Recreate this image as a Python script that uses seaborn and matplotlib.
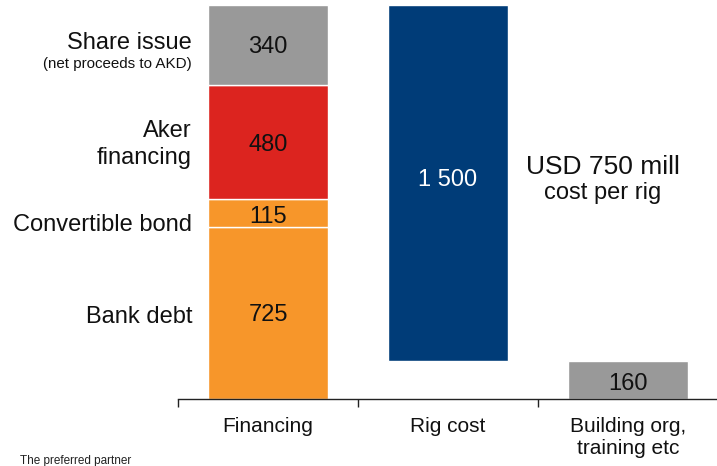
import numpy as np
import pandas as pd
import matplotlib
matplotlib.use("Agg")
import matplotlib.pyplot as plt
import seaborn as sns

# ---- data ----
categories = ["Financing", "Rig cost", "Building org,\ntraining etc"]
fin_segments = ["Bank debt", "Convertible bond", "Aker\nfinancing", "Share issue"]
fin_values = [725, 115, 480, 340]
rig_cost = 1500
building_cost = 160
value_labels_fin = ["725", "115", "480", "340"]
rig_label = "1 500"
building_label = "160"

colors_fin = ["#F7962A", "#F7962A", "#DC241F", "#999999"]
color_rig = "#003C78"
color_building = "#999999"

sns.set_theme(style="white")
plt.rcParams["font.family"] = ["Liberation Sans", "DejaVu Sans"]

fig = plt.figure(figsize=(7.17, 4.66), dpi=100)
ax = fig.add_axes([0.2483, 0.1438, 0.7531, 0.8562])

width = 0.667
bottoms = np.concatenate([[0], np.cumsum(fin_values)[:-1]])
for seg, val, bot, col in zip(fin_segments, fin_values, bottoms, colors_fin):
    sns.barplot(x=[categories[0]], y=[val], order=categories, ax=ax,
                color=col, width=width, bottom=bot, edgecolor="white",
                linewidth=1, saturation=1)

sns.barplot(x=[categories[1]], y=[rig_cost], order=categories, ax=ax,
            color=color_rig, width=width, bottom=building_cost,
            edgecolor="white", linewidth=1, saturation=1)
sns.barplot(x=[categories[2]], y=[building_cost], order=categories, ax=ax,
            color=color_building, width=width, edgecolor="white",
            linewidth=1, saturation=1)

ax.set_xlim(-0.5, 2.5)
ax.set_ylim(0, 1680)
ax.set_ylabel("")
ax.set_xlabel("")
ax.set_yticks([])
for s in ["left", "top", "right"]:
    ax.spines[s].set_visible(False)
ax.spines["bottom"].set_color("#222222")
ax.spines["bottom"].set_linewidth(1)

ax.set_xticks(range(len(categories)))
ax.set_xticklabels(categories, fontsize=15, color="#111111", linespacing=1.2)
ax.tick_params(axis="x", which="major", length=0, pad=13)
ax.set_xticks([-0.5, 0.5, 1.5, 2.5], minor=True)
ax.tick_params(axis="x", which="minor", length=6, width=1, color="#222222",
               direction="out", bottom=True)

# segment value labels
dy = -10
centers = bottoms + np.array(fin_values) / 2
offsets = [0, -8, 0, 0]
for c, lab, off in zip(centers, value_labels_fin, offsets):
    ax.text(0, c + off + dy, lab, ha="center", va="center", fontsize=17,
            color="#111111")

ax.text(1, building_cost + rig_cost / 2 + 20 + dy, rig_label, ha="center",
        va="center", fontsize=17, color="white")
ax.text(2, building_cost / 2 - 5 + dy, building_label, ha="center", va="center",
        fontsize=17, color="#111111")

# left side segment names
lx = -0.422
ax.text(lx, 1499, "Share issue", ha="right", va="center", fontsize=17,
        color="#111111", clip_on=False)
ax.text(lx, 1410, "(net proceeds to AKD)", ha="right", va="center",
        fontsize=10.9, color="#111111", clip_on=False)
ax.text(lx, 1070, fin_segments[2], ha="right", va="center", fontsize=17,
        color="#111111", clip_on=False, linespacing=1.3)
ax.text(lx, 733, fin_segments[1], ha="right", va="center", fontsize=17,
        color="#111111", clip_on=False)
ax.text(lx, 346, fin_segments[0], ha="right", va="center", fontsize=17,
        color="#111111", clip_on=False)

# annotation
ax.text(1.861, 977, "USD 750 mill", ha="center", va="center", fontsize=19,
        color="#111111")
ax.text(1.861, 868, "cost per rig", ha="center", va="center", fontsize=17,
        color="#111111")

fig.text(20 / 717, 1 - 461 / 466, "The preferred partner", ha="left",
         va="center", fontsize=8.5, color="#222222")

fig.savefig("out.png", dpi=100)
